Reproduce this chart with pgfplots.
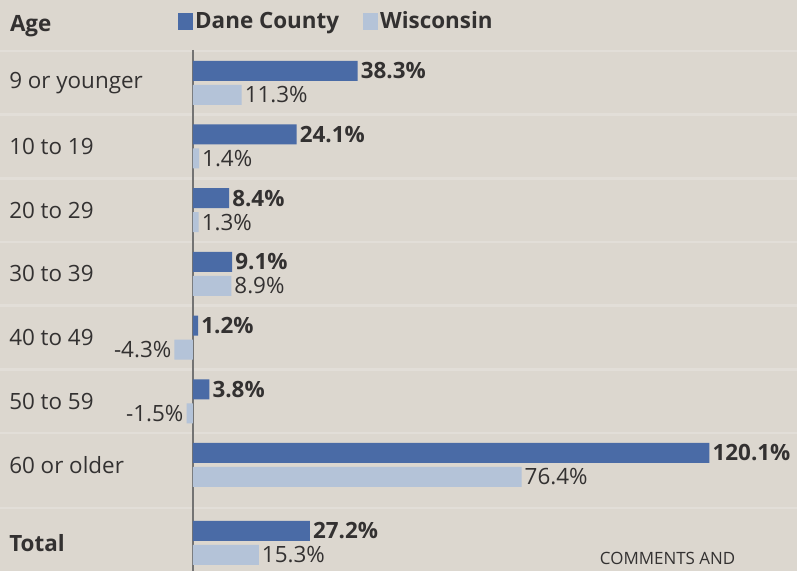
\documentclass[border=0pt]{standalone}
\usepackage{pgfplots}
\pgfplotsset{compat=1.18}
\usepackage{fontspec}
\setmainfont{Open Sans}
\definecolor{bg}{HTML}{DCD7CF}
\definecolor{dane}{HTML}{4A6BA6}
\definecolor{wisc}{HTML}{B4C3D8}
\definecolor{txt}{HTML}{333131}
\newcommand{\fs}{\fontsize{22.5}{26}\selectfont}
\begin{document}
\begin{tikzpicture}
\begin{axis}[
  scale only axis, width=797bp, height=571bp,
  xmin=-44.88, xmax=140.47,
  ymin=-0.44, ymax=8.524,
  axis background/.style={fill=bg},
  axis line style={draw=none},
  tick style={draw=none},
  xtick=\empty,
  ytick={0,1.224,2.224,3.224,4.224,5.224,6.224,7.224},
  yticklabels={\textbf{Total},60 or older,50 to 59,40 to 49,30 to 39,20 to 29,10 to 19,9 or younger},
  yticklabel style={anchor=west, xshift=10bp, font=\fs, text=txt},
  xbar, bar width=20bp,
  clip=false,
  point meta=x,
  nodes near coords={\pgfmathprintnumber[fixed,fixed zerofill,precision=1,assume math mode=true]{\pgfplotspointmeta}\%},
  nodes near coords align={horizontal},
  legend style={draw=none, fill=none, at={(rel axis cs:0.2233,0.983)}, anchor=north west,
     legend columns=2, font=\fs\bfseries, text=txt,
     /tikz/every even column/.append style={column sep=22bp},
     inner sep=0pt, cells={anchor=west}},
  legend image code/.code={\fill[#1,draw=none] (0bp,-8.5bp) rectangle (15bp,8.5bp);},
]
\coordinate (sw) at (rel axis cs:0,0);
\coordinate (ne) at (rel axis cs:1,1);
% faint separators
\pgfplotsinvokeforeach{0.55,1.724,2.724,3.724,4.724,5.724,6.724,7.724}{
  \draw[white!18!bg, line width=2.5bp] (axis cs:-44.88,#1) -- (axis cs:140.47,#1);
}
\draw[black!55, line width=1.3bp] (axis cs:0,7.74) -- (axis cs:0,-0.44);
\addplot[fill=dane, draw=none, bar shift=12bp,
  every node near coord/.append style={font=\fs\bfseries, text=txt, inner xsep=3bp}]
  coordinates {(38.3,7.224) (24.1,6.224) (8.4,5.224) (9.1,4.224) (1.2,3.224) (3.8,2.224) (120.1,1.224) (27.2,0)};
\addplot[fill=wisc, draw=none, bar shift=-12bp,
  every node near coord/.append style={font=\fs, text=txt, inner xsep=3bp}]
  coordinates {(11.3,7.224) (1.4,6.224) (1.3,5.224) (8.9,4.224) (-4.3,3.224) (-1.5,2.224) (76.4,1.224) (15.3,0)};
\legend{Dane County, Wisconsin}
\node[anchor=west, font=\fs\bfseries, text=txt, inner sep=0pt] at (axis cs:-42.6,8.12) {Age};
\node[anchor=west, font=\fontsize{17}{20}\selectfont, text=txt, inner sep=0pt] at (axis cs:94.6,-0.24) {COMMENTS AND};
\end{axis}
\pgfresetboundingbox
\path[use as bounding box] (sw) rectangle (ne);
\end{tikzpicture}
\end{document}
